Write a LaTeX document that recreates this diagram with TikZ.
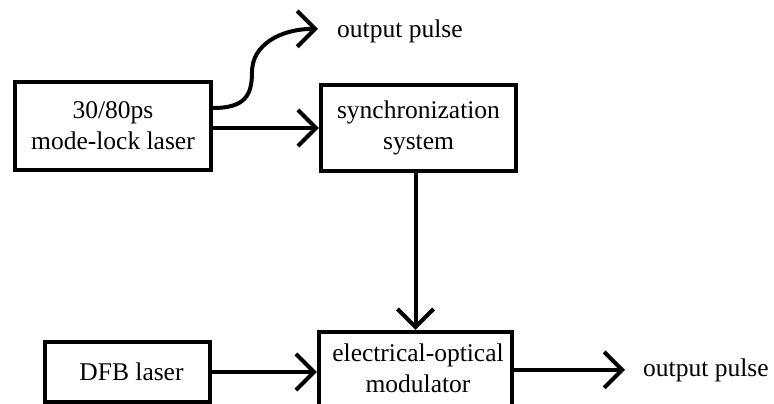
\documentclass[tikz,border=0pt]{standalone}
\usepackage{fontspec}
\setmainfont{Liberation Serif}
\usetikzlibrary{arrows.meta}
\begin{document}
\begin{tikzpicture}[x=1pt,y=-1pt,
  box/.style={draw, line width=4.4pt, inner sep=0pt, align=center, font=\fontsize{25.5}{31}\selectfont},
  lbl/.style={inner sep=0pt, align=center, font=\fontsize{25.5}{31}\selectfont},
  arr/.style={line width=4pt, -{Straight Barb[length=18pt,width=36pt]}}]
\clip (0,0) rectangle (774,404);
\fill[white] (0,0) rectangle (774,404);
% boxes
\node[box, minimum width=196pt, minimum height=88pt] (laser) at (113,126) {30/80ps\\mode-lock laser};
\node[box, minimum width=195pt, minimum height=86pt] (sync) at (418.5,128) {synchronization\\system};
\node[box, minimum width=164.6pt, minimum height=59.6pt] (dfb) at (127.5,372) {\hspace*{8pt}DFB laser};
\node[box, minimum width=193pt, minimum height=88pt] (mod) at (415.5,376) {};
\node[lbl] (modlabel) at (418,368) {electrical-optical\\modulator};
% output labels
\node[lbl, anchor=base west] (out1) at (337,38) {output pulse};
\node[lbl, anchor=base west] (out2) at (643,376) {output pulse};
% connectors
\draw[arr] (laser.east |- sync.west) -- (sync.west);
\draw[arr] ([yshift=18pt]laser.east) .. controls +(32,0) and +(0,23) .. (252,72)
           .. controls +(0,-27) and +(-38,0) .. ([xshift=-19pt,yshift=3pt]out1.west);
\draw[arr] (dfb.east) -- (dfb.east -| mod.west);
\draw[arr] (sync.south -| mod.north) -- (mod.north);
\draw[arr] (mod.east |- out2.west) -- ([xshift=-18pt]out2.west);
\end{tikzpicture}
\end{document}
